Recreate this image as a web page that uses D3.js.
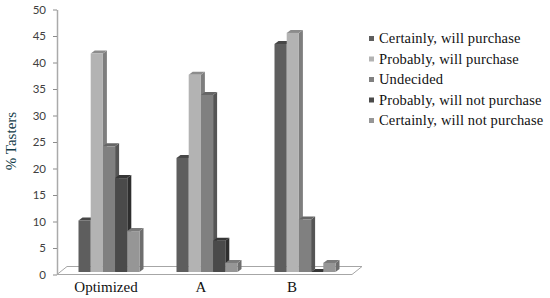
<!DOCTYPE html>
<html>
<head>
<meta charset="utf-8">
<script src="https://cdn.jsdelivr.net/npm/d3@7"></script>
<style>
  html, body { margin: 0; padding: 0; background: #fff; }
  svg { display: block; }
</style>
</head>
<body>
<div id="chart"></div>
<script>
// data
var categories = ["Optimized", "A", "B"];
var seriesNames = [
  "Certainly, will purchase",
  "Probably, will purchase",
  "Undecided",
  "Probably, will not purchase",
  "Certainly, will not purchase"
];
var optimizedValues = [10, 41.5, 24, 18, 8];
var aValues = [21.8, 37.5, 33.7, 6.2, 2];
var bValues = [43.3, 45.4, 10.2, 0.3, 2];
var yTicks = [0, 5, 10, 15, 20, 25, 30, 35, 40, 45, 50];

// front, top, side shade for each series
var frontColors = ["#5e5e5e", "#b3b3b3", "#808080", "#4a4a4a", "#969696"];
var topColors = ["#474747", "#8c8c8c", "#666666", "#363636", "#7a7a7a"];
var sideColors = ["#4b4b4b", "#7e7e7e", "#555555", "#2e2e2e", "#6e6e6e"];

var valuesByCategory = [optimizedValues, aValues, bValues];

var svg = d3.select("#chart").append("svg")
  .attr("width", 550)
  .attr("height", 298);

// scales
var y = d3.scaleLinear().domain([0, 50]).range([274.5, 9.5]);
var x = d3.scaleBand().domain(categories).range([60, 354]).paddingInner(0).paddingOuter(0);
var barWidth = 12.2;
var xSeries = d3.scaleBand()
  .domain(d3.range(seriesNames.length))
  .range([0, barWidth * seriesNames.length]);

var dx = 4, dy = 3;       // bar depth
var baseY = y(0) - 2.5;   // bars stand on the floor a bit behind the axis

// floor
var floorLeft = 57, floorRight = 352;
svg.append("path")
  .attr("d", `M${floorLeft},${y(0)}L${floorLeft + 10},${y(0) - 8}L${floorRight + 10},${y(0) - 8}L${floorRight},${y(0)}Z`)
  .attr("fill", "#fff")
  .attr("stroke", "#a6a6a6")
  .attr("stroke-width", 1);

// y axis
var leftAxis = d3.axisLeft(y).tickValues(yTicks).tickSize(4).tickPadding(7).tickSizeOuter(0).tickFormat(d3.format("d"));
var axisG = svg.append("g")
  .attr("transform", `translate(${floorLeft}, 0)`)
  .call(leftAxis);
axisG.select(".domain").attr("stroke", "#aaaaaa").attr("stroke-width", 1.5);
axisG.selectAll(".tick line").attr("stroke", "#8c8c8c");
axisG.selectAll("text")
  .attr("fill", "#404040")
  .style("font", "11.5px Lato, 'Open Sans', sans-serif");

// bars
categories.forEach(function(cat, c) {
  var g = svg.append("g")
    .attr("transform", `translate(${x(cat) + (x.bandwidth() - xSeries.range()[1]) / 2}, 0)`);

  valuesByCategory[c].forEach(function(v, s) {
    var x0 = xSeries(s), x1 = x0 + xSeries.bandwidth();
    var top = y(v) - 1;

    g.append("path")
      .attr("d", `M${x1},${top}L${x1 + dx},${top - dy}L${x1 + dx},${baseY - dy}L${x1},${baseY}Z`)
      .attr("fill", sideColors[s]);
    g.append("path")
      .attr("d", `M${x0},${top}L${x0 + dx},${top - dy}L${x1 + dx},${top - dy}L${x1},${top}Z`)
      .attr("fill", topColors[s]);
    g.append("rect")
      .attr("x", x0)
      .attr("y", top)
      .attr("width", xSeries.bandwidth())
      .attr("height", Math.max(0, baseY - top))
      .attr("fill", frontColors[s]);
  });
});

// category labels sit left of their bars and are not evenly spaced
var xLabel = d3.scaleOrdinal().domain(categories).range([106, 201, 292]);
svg.selectAll(".catLabel")
  .data(categories)
  .enter()
  .append("text")
  .attr("class", "catLabel")
  .attr("x", d => xLabel(d))
  .attr("y", 292)
  .attr("text-anchor", "middle")
  .attr("fill", "#111")
  .style("font", "15px 'Liberation Serif', serif")
  .text(d => d);

// y axis label
svg.append("text")
  .attr("transform", "translate(16, 141) rotate(-90)")
  .attr("text-anchor", "middle")
  .attr("fill", "#123c48")
  .style("font", "15px 'Liberation Serif', serif")
  .text("% Tasters");

// legend
var legendY = d3.scalePoint().domain(seriesNames).range([39, 121]);
var legend = svg.selectAll(".legendRow")
  .data(seriesNames)
  .enter()
  .append("g")
  .attr("class", "legendRow")
  .attr("transform", d => `translate(369, ${legendY(d)})`);

legend.append("rect")
  .attr("x", 0)
  .attr("y", -3)
  .attr("width", 5)
  .attr("height", 5)
  .attr("fill", (d, i) => frontColors[i]);

legend.append("text")
  .attr("x", 10)
  .attr("y", 4)
  .attr("fill", "#111")
  .style("font", "14.5px 'Liberation Serif', serif")
  .style("letter-spacing", "0.15px")
  .text(d => d);
</script>
</body>
</html>
